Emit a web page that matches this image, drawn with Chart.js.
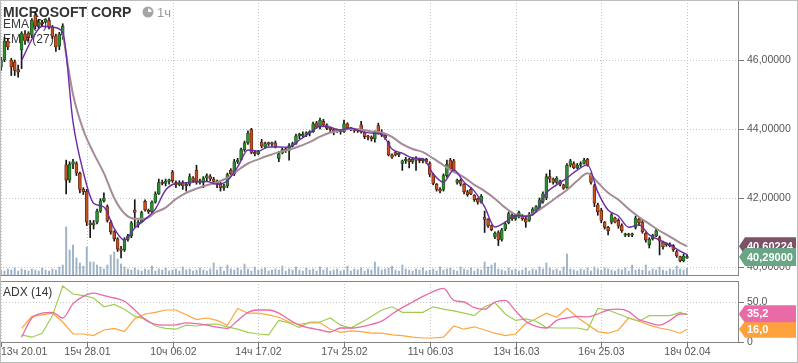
<!DOCTYPE html>
<html><head><meta charset="utf-8">
<script src="https://cdn.jsdelivr.net/npm/chart.js@4.4.1/dist/chart.umd.min.js"></script>
<style>
html,body{margin:0;padding:0;background:#fff;}
#wrap{position:relative;width:798px;height:363px;overflow:hidden;background:#fff;}
#c1{position:absolute;left:0;top:0;}
#c2{position:absolute;left:0;top:276px;}
#frame{position:absolute;left:0;top:0;width:798px;height:363px;box-sizing:border-box;border:1px solid #bdbdbd;pointer-events:none;}
</style></head><body>
<div id="wrap"><canvas id="c1" width="798" height="276"></canvas><canvas id="c2" width="798" height="87"></canvas><div id="frame"></div></div>
<script>
// ---------- DATA ----------
const title = "MICROSOFT CORP";
const periodLabel = "1ч";
const xTickLabels = ["13ч 20.01","15ч 28.01","10ч 06.02","14ч 17.02","17ч 25.02","11ч 06.03","13ч 16.03","16ч 25.03","18ч 02.04"];
const priceTicks = [40, 42, 44, 46];
const adxTicks = [0, 50];

const open = [
45.80,46.00,46.55,46.00,45.95,45.72,46.30,46.75,46.78,46.72,
47.30,46.98,47.08,47.10,47.15,46.95,46.70,46.40,46.72,42.96,
42.52,42.98,43.00,42.72,42.25,42.20,41.28,41.22,41.30,41.62,
41.92,41.75,41.30,41.02,40.82,40.50,40.50,40.80,40.90,41.65,
41.22,41.30,41.90,41.62,41.60,41.88,42.12,42.45,42.42,42.48,
42.75,42.45,42.38,42.45,42.35,42.40,42.58,42.80,42.45,42.45,
42.58,42.62,42.55,42.48,42.40,42.30,42.35,42.80,42.70,43.05,
43.12,43.40,43.60,43.98,43.32,43.28,43.62,43.48,43.58,43.56,
43.60,43.15,43.30,43.40,43.38,43.50,43.58,43.80,43.80,43.85,
43.88,43.92,44.18,44.05,44.22,44.12,44.02,43.98,43.95,43.95,
43.92,44.15,44.03,43.98,43.95,44.12,43.90,43.78,43.76,43.72,
44.10,43.90,43.82,43.62,43.25,43.32,43.25,43.00,43.08,43.12,
43.05,43.12,43.10,43.08,43.12,43.00,42.68,42.40,42.25,42.25,
42.65,43.10,43.08,42.45,42.52,42.40,42.18,42.25,42.08,41.98,
41.88,41.45,41.38,41.20,40.88,41.00,40.80,41.10,41.28,41.50,
41.40,41.45,41.50,41.40,41.35,41.52,41.62,41.70,41.90,42.00,
42.62,42.55,42.45,42.50,42.38,42.30,42.95,43.00,42.88,42.95,
43.00,43.12,42.68,42.35,41.80,41.65,41.30,41.15,41.30,41.42,
41.35,41.20,40.92,40.95,40.92,41.15,41.38,41.30,40.98,40.65,
40.82,40.90,40.85,40.72,40.65,40.65,40.62,40.45,40.30,40.18,
40.26];
const high = [
46.08,46.65,46.62,46.05,46.00,45.85,46.82,46.85,46.82,47.20,
47.40,47.18,47.15,47.20,47.22,47.00,46.75,46.80,47.05,43.10,
43.05,43.12,43.05,42.75,42.30,42.25,41.35,41.35,41.68,41.98,
42.15,41.80,41.35,41.05,40.85,40.60,40.85,40.95,41.32,41.95,
41.35,41.62,41.95,41.68,41.92,42.18,42.55,42.52,42.55,42.55,
42.80,42.50,42.50,42.50,42.45,42.70,42.62,42.95,42.55,42.62,
42.70,42.68,42.60,42.52,42.45,42.40,42.72,42.85,43.12,43.15,
43.45,43.65,43.95,44.02,43.38,43.38,43.70,43.62,43.62,43.62,
43.65,43.35,43.45,43.45,43.58,43.62,43.85,43.88,43.92,43.92,
43.95,44.20,44.22,44.32,44.28,44.15,44.06,44.02,44.00,43.98,
44.26,44.18,44.05,44.00,44.00,44.22,43.92,43.82,43.80,43.95,
44.17,43.98,43.85,43.65,43.28,43.35,43.32,43.10,43.18,43.15,
43.18,43.20,43.15,43.15,43.15,43.05,42.72,42.42,42.30,42.70,
43.10,43.15,43.12,42.55,42.55,42.42,42.22,42.30,42.10,42.00,
42.10,41.62,41.40,41.22,41.02,41.05,41.12,41.30,41.60,41.55,
41.52,41.62,41.52,41.45,41.58,41.72,41.78,42.00,42.18,42.70,
42.81,42.58,42.62,42.52,42.40,43.00,43.12,43.05,43.00,43.05,
43.15,43.15,42.72,42.40,41.85,41.70,41.32,41.18,41.55,41.45,
41.40,41.25,40.98,40.98,40.98,41.48,41.42,41.35,41.00,40.85,
40.95,41.10,40.90,40.75,40.70,40.70,40.65,40.48,40.32,40.38,
40.36];
const low = [
45.70,45.95,46.30,45.55,45.55,45.50,45.75,46.45,46.55,46.65,
46.90,46.92,46.98,47.08,46.90,46.62,46.25,46.30,46.60,42.12,
42.45,42.85,42.65,42.15,42.10,41.20,40.85,41.10,41.25,41.58,
41.88,41.30,40.95,40.75,40.45,40.26,40.45,40.75,40.85,41.15,
41.15,41.28,41.62,41.55,41.55,41.85,42.10,42.38,42.35,42.40,
42.45,42.30,42.35,42.25,42.20,42.35,42.45,42.40,42.40,42.30,
42.50,42.50,42.40,42.30,42.20,42.22,42.30,42.65,42.65,43.00,
43.10,43.35,43.55,43.28,43.22,43.25,43.45,43.45,43.52,43.50,
43.45,43.05,43.28,43.32,43.10,43.48,43.55,43.72,43.75,43.78,
43.80,43.90,44.02,44.00,44.10,43.98,43.92,43.83,43.90,43.85,
43.90,44.00,43.95,43.90,43.90,43.88,43.72,43.68,43.65,43.62,
43.85,43.78,43.70,43.22,43.15,43.22,43.20,42.80,43.00,42.87,
43.00,42.80,43.02,43.02,43.00,42.62,42.38,42.20,42.15,42.20,
42.60,42.82,42.75,42.40,42.35,42.12,42.05,42.10,41.90,41.82,
41.85,41.00,41.15,41.05,40.82,40.62,40.75,41.05,41.25,41.35,
41.35,41.42,41.35,41.15,41.32,41.50,41.58,41.65,41.85,41.95,
42.45,42.40,42.42,42.35,42.25,42.28,42.90,42.85,42.85,42.90,
42.98,42.92,42.40,41.75,41.50,41.28,41.10,40.93,41.25,41.28,
41.12,41.00,40.88,40.88,40.88,41.10,41.20,40.98,40.72,40.55,
40.78,40.88,40.35,40.52,40.60,40.58,40.45,40.28,40.15,40.15,
40.25];
const close = [
46.00,46.55,46.38,45.80,45.70,45.65,46.78,46.55,46.65,47.15,
46.98,47.10,47.05,47.18,46.95,46.68,46.38,46.75,46.98,42.52,
42.98,43.05,42.72,42.25,42.18,41.30,41.22,41.28,41.62,41.92,
42.00,41.35,41.02,40.82,40.52,40.48,40.80,40.90,41.28,41.58,
41.30,41.58,41.65,41.60,41.88,42.12,42.45,42.42,42.48,42.52,
42.50,42.38,42.45,42.35,42.40,42.62,42.50,42.45,42.50,42.58,
42.65,42.55,42.48,42.40,42.30,42.35,42.68,42.70,43.05,43.10,
43.40,43.60,43.88,43.32,43.28,43.35,43.50,43.58,43.56,43.58,
43.48,43.28,43.40,43.38,43.52,43.58,43.80,43.82,43.85,43.88,
43.92,44.15,44.05,44.25,44.12,44.02,43.98,43.92,43.98,43.92,
44.15,44.03,43.98,43.95,43.98,43.92,43.78,43.76,43.72,43.90,
43.90,43.82,43.75,43.25,43.18,43.25,43.28,43.08,43.12,43.05,
43.12,43.10,43.08,43.12,43.05,42.68,42.42,42.25,42.20,42.65,
42.98,42.85,42.80,42.52,42.40,42.18,42.10,42.12,41.95,41.88,
42.05,41.38,41.20,41.08,40.98,40.78,41.08,41.25,41.55,41.40,
41.48,41.58,41.40,41.30,41.52,41.68,41.75,41.95,42.12,42.62,
42.55,42.45,42.58,42.40,42.28,42.95,43.08,42.88,42.95,43.00,
43.10,42.95,42.45,41.85,41.60,41.35,41.15,41.05,41.52,41.30,
41.18,41.05,40.96,40.92,40.95,41.42,41.28,41.02,40.78,40.80,
40.92,41.05,40.75,40.58,40.65,40.62,40.50,40.32,40.18,40.32,
40.29];
const volume = [
5,4,6,5,7,4,6,5,4,6,
5,4,7,5,4,6,5,8,10,48,
25,30,17,12,9,28,13,13,10,8,
6,10,20,23,16,11,8,6,5,7,
5,4,6,5,9,4,6,5,7,4,
5,6,4,8,5,6,4,5,7,5,
4,6,12,5,8,4,10,6,5,7,
5,11,6,4,8,5,6,7,4,5,
6,5,9,4,6,5,8,5,4,7,
5,6,4,8,5,7,4,5,6,4,
5,9,4,6,5,7,4,6,5,13,
8,5,6,7,9,5,4,10,6,5,
4,6,5,7,4,5,6,4,8,5,
6,7,5,4,8,6,5,7,4,6,
5,13,8,10,12,6,5,4,7,5,
6,4,5,7,4,6,5,8,6,12,
7,5,6,4,8,21,6,5,4,6,
5,7,4,8,6,5,7,6,5,4,
6,5,7,4,10,5,6,5,10,4,
6,5,8,5,4,6,5,9,6,5,
7];
// indicator values read every 3rd bar (last one at the final bar)
const ema9 = [
null,null,45.98,46.6,46.98,46.95,46.8,44.2,42.75,41.85,
41.74,41.12,40.78,41.13,41.38,41.68,42.23,42.42,42.44,42.48,
42.48,42.40,42.5,42.9,43.39,43.36,43.48,43.48,43.47,43.68,
43.88,44.08,44.05,43.97,44.03,43.93,43.88,43.85,43.42,43.30,
43.16,43.14,42.7,42.46,42.81,42.46,42.2,41.74,41.16,41.3,
41.5,41.47,41.6,42.15,42.38,42.58,42.81,42.96,42.17,41.65,
41.48,41.15,41.22,40.93,40.78,40.64,40.46,40.36];
const ema27 = [
null,null,null,null,null,null,46.78,45.0,43.97,43.3,
42.72,42.0,41.55,41.4,41.4,41.58,41.72,41.97,42.15,42.27,
42.37,42.46,42.58,42.8,43.0,43.12,43.23,43.33,43.4,43.5,
43.62,43.78,43.9,43.96,44.0,43.98,43.93,43.9,43.77,43.56,
43.42,43.33,43.15,42.95,42.76,42.6,42.38,42.2,41.98,41.72,
41.52,41.47,41.6,41.8,42.02,42.23,42.5,42.72,42.45,42.15,
41.95,41.68,41.45,41.25,41.05,40.88,40.7,40.60224];
const adx = [
null,null,6,30,36,37,30,48,57,61,
58,55,51,40,28,22,21,21.5,24,23,
21,18.5,17,27,37,40,40,36,28,21,
17.5,15,12.5,17.5,17.5,19,22,26,35,43,
50,57,63,67,52,50,43,41,50,52,
39,26,19.5,17.5,27,30,32,31.5,35,40,
41,38,28,24,21,27,35,35.2];
const plusDI = [
null,null,9,6,11,33,70,60,58,55,
44,47,41,32,29,20,17,16,21,20,
22,22.5,19,16,12,10,9,27,24,18,
25,25,30,21,17.5,24.5,32,40,44,37,
37,37,44,41,39,36,33,44,49,35,
27,29,26,18,17.5,17.5,17.5,15,42,40,
35,30,26,33,33,33,37,34];
const minusDI = [
null,null,17,32,34,36,25,10,10,8,
15,17,13,29,35,37,40,40,34,28,
30,27,21,42,36,36,34,31,25,22,
24,24,16,12,14,13,11,11,9,8,
6,5,5,6,20,16,19,15,11,8,
10,23,29,36,31,42,31,22,13,11,
15,30,26,21,17.5,15,11,16];

// ---------- GEOMETRY / STYLE ----------
const LAST = open.length - 1;
const SAMPLE = 3;
const TICK_STEP = 25;
const BAR_PX = 3.43;
const PLOT_W = 738;
const X_MIN = -1 / BAR_PX;
const X_MAX = X_MIN + PLOT_W / BAR_PX;
const FONT = '"Liberation Sans", Arial, sans-serif';
const GREEN = '#2f8f2f', RED = '#c84f1e';

const sx = k => Math.min(k * SAMPLE, LAST);
const series = arr => arr.map((v, k) => v == null ? null : {x: sx(k), y: v}).filter(p => p);
const fmt = (v, d) => v.toFixed(d).replace('.', ',');

function hline(ctx, x1, x2, y) { ctx.beginPath(); ctx.moveTo(x1, y); ctx.lineTo(x2, y); ctx.stroke(); }
function vline(ctx, x, y1, y2) { ctx.beginPath(); ctx.moveTo(x, y1); ctx.lineTo(x, y2); ctx.stroke(); }
function tag(ctx, x0, yc, w, h, bg, text) {
  ctx.fillStyle = bg; ctx.beginPath();
  ctx.moveTo(x0, yc); ctx.lineTo(x0 + 6, yc - h / 2); ctx.lineTo(x0 + w, yc - h / 2);
  ctx.lineTo(x0 + w, yc + h / 2); ctx.lineTo(x0 + 6, yc + h / 2); ctx.closePath(); ctx.fill();
  ctx.fillStyle = '#fff'; ctx.font = 'bold 11px ' + FONT; ctx.textAlign = 'left'; ctx.textBaseline = 'middle';
  ctx.fillText(text, x0 + 8, yc + 0.5);
}
function drawGrid(ctx, a, xs, ys, yVals) {
  ctx.save(); ctx.strokeStyle = '#c6c6c6'; ctx.lineWidth = 1; ctx.setLineDash([1, 2]);
  yVals.forEach(v => hline(ctx, a.left, a.right, Math.round(ys.getPixelForValue(v)) + 0.5));
  xTickLabels.forEach((_, i) => vline(ctx, Math.round(xs.getPixelForValue(i * TICK_STEP)) + 0.5, a.top, a.bottom));
  ctx.restore();
}
function drawFrame(ctx, a) {
  ctx.save(); ctx.strokeStyle = '#858585'; ctx.lineWidth = 1;
  ctx.strokeRect(a.left + 0.5, a.top + 0.5, a.right - a.left, a.bottom - a.top);
  ctx.restore();
}
function drawYLabels(ctx, a, ys, vals, d) {
  ctx.save(); ctx.strokeStyle = '#777'; ctx.fillStyle = '#555'; ctx.font = '10.5px ' + FONT;
  ctx.textAlign = 'left'; ctx.textBaseline = 'middle';
  vals.forEach(v => { const py = Math.round(ys.getPixelForValue(v)) + 0.5; hline(ctx, a.right + 1, a.right + 6, py); ctx.fillText(fmt(v, d), a.right + 9, py); });
  ctx.restore();
}

// ---------- MAIN PANEL ----------
const mainDecor = {
  id: 'mainDecor',
  beforeDatasetsDraw(chart) {
    const {ctx, chartArea: a, scales: {x, y}} = chart;
    drawGrid(ctx, a, x, y, priceTicks);
    ctx.save();
    ctx.fillStyle = '#333'; ctx.font = 'bold 14px ' + FONT; ctx.textBaseline = 'alphabetic'; ctx.textAlign = 'left';
    ctx.fillText(title, 3, 17);
    // clock icon
    ctx.fillStyle = '#a5a5a5'; ctx.beginPath(); ctx.arc(148, 12, 5.5, 0, Math.PI * 2); ctx.fill();
    ctx.fillStyle = '#fff'; ctx.beginPath(); ctx.moveTo(148, 12); ctx.arc(148, 12, 3.6, -Math.PI / 2, 0); ctx.closePath(); ctx.fill();
    ctx.fillStyle = '#9a9a9a'; ctx.font = '13px ' + FONT; ctx.fillText(periodLabel, 157, 17);
    ctx.fillStyle = '#3a3a3a'; ctx.font = '12px ' + FONT;
    ctx.fillText('EMA (9)', 3, 28); ctx.fillText('EMA (27)', 3, 43);
    ctx.restore();
  },
  afterDraw(chart) {
    const {ctx, chartArea: a, scales: {y}} = chart;
    drawFrame(ctx, a);
    drawYLabels(ctx, a, y, priceTicks, 5);
    const e = ema27[ema27.length - 1];
    tag(ctx, a.right + 1, y.getPixelForValue(e), 57, 18, '#7b5266', fmt(e, 5));
    tag(ctx, a.right + 1, y.getPixelForValue(close[LAST]), 57, 18, '#69a685', fmt(close[LAST], 5));
  }
};

new Chart(document.getElementById('c1'), {
  type: 'bar',
  data: {
    datasets: [
      {type: 'line', label: 'EMA (9)', data: series(ema9), borderColor: '#6b2aa6', borderWidth: 1.4, pointRadius: 0, cubicInterpolationMode: 'monotone', order: 1},
      {type: 'line', label: 'EMA (27)', data: series(ema27), borderColor: '#a48b97', borderWidth: 2, pointRadius: 0, cubicInterpolationMode: 'monotone', order: 2},
      {label: 'body', data: open.map((o, i) => ({x: i, y: [o, close[i]]})), backgroundColor: open.map((o, i) => close[i] >= o ? GREEN : RED),
        borderColor: open.map((o, i) => close[i] >= o ? '#1b4f1b' : '#5e2410'), borderWidth: 0.8, borderSkipped: false,
        barThickness: 3, minBarLength: 1.5, grouped: false, order: 8},
      {label: 'wick', data: high.map((h, i) => ({x: i, y: [low[i], h]})), backgroundColor: '#151515', barThickness: 1, grouped: false, order: 9},
      {label: 'volume', data: volume.map((v, i) => ({x: i, y: v})), yAxisID: 'yv', backgroundColor: '#9fb3c7', barThickness: 1.3, grouped: false, order: 10}
    ]
  },
  options: {
    responsive: false, animation: false, devicePixelRatio: 1,
    layout: {padding: {left: 0, right: 60, top: 0, bottom: 1}},
    plugins: {legend: {display: false}, tooltip: {enabled: false}},
    scales: {
      x: {type: 'linear', min: X_MIN, max: X_MAX, display: false, offset: false},
      y: {min: 39.768, max: 47.739, display: false},
      yv: {min: 0, max: 275, display: false}
    }
  },
  plugins: [mainDecor]
});

// ---------- ADX PANEL ----------
const adxDecor = {
  id: 'adxDecor',
  beforeDatasetsDraw(chart) {
    const {ctx, chartArea: a, scales: {x, y}} = chart;
    drawGrid(ctx, a, x, y, [50]);
    ctx.save(); ctx.fillStyle = '#333'; ctx.font = '12px ' + FONT; ctx.textAlign = 'left'; ctx.textBaseline = 'alphabetic';
    ctx.fillText('ADX (14)', 3, 20); ctx.restore();
  },
  afterDraw(chart) {
    const {ctx, chartArea: a, scales: {x, y}} = chart;
    drawFrame(ctx, a);
    ctx.save(); ctx.strokeStyle = '#777'; ctx.fillStyle = '#555'; ctx.font = '10.5px ' + FONT; ctx.textBaseline = 'middle';
    adxTicks.forEach(v => { const py = Math.round(y.getPixelForValue(v)) + 0.5; hline(ctx, a.right + 1, a.right + 6, py); ctx.textAlign = 'left'; ctx.fillText(fmt(v, v === 0 ? 0 : 1), a.right + 9, py); });
    xTickLabels.forEach((t, i) => {
      const px = Math.round(x.getPixelForValue(i * TICK_STEP)) + 0.5;
      vline(ctx, px, a.bottom + 1, a.bottom + 5);
      ctx.textAlign = i === 0 ? 'left' : 'center';
      ctx.fillText(t, i === 0 ? 1 : px, a.bottom + 10.5);
    });
    ctx.restore();
    tag(ctx, a.right + 1, y.getPixelForValue(plusDI[plusDI.length - 1]), 57, 17, '#a3cf5c', fmt(plusDI[plusDI.length - 1], 1));
    tag(ctx, a.right + 1, y.getPixelForValue(minusDI[minusDI.length - 1]), 57, 17, '#fca13b', fmt(minusDI[minusDI.length - 1], 1));
    tag(ctx, a.right + 1, y.getPixelForValue(adx[adx.length - 1]), 57, 17, '#e96aa6', fmt(adx[adx.length - 1], 1));
  }
};

new Chart(document.getElementById('c2'), {
  type: 'line',
  data: {
    datasets: [
      {label: '-DI', data: series(minusDI), borderColor: '#ffa43c', borderWidth: 1.2, pointRadius: 0, tension: 0, order: 3},
      {label: '+DI', data: series(plusDI), borderColor: '#9fcd4f', borderWidth: 1.2, pointRadius: 0, tension: 0, order: 2},
      {label: 'ADX', data: series(adx), borderColor: '#e86aa6', borderWidth: 1.3, pointRadius: 0, cubicInterpolationMode: 'monotone', order: 1}
    ]
  },
  options: {
    responsive: false, animation: false, devicePixelRatio: 1,
    layout: {padding: {left: 0, right: 60, top: 5, bottom: 21}},
    plugins: {legend: {display: false}, tooltip: {enabled: false}},
    scales: {
      x: {type: 'linear', min: X_MIN, max: X_MAX, display: false},
      y: {min: 0, max: 76.25, display: false}
    }
  },
  plugins: [adxDecor]
});
</script>
</body></html>
